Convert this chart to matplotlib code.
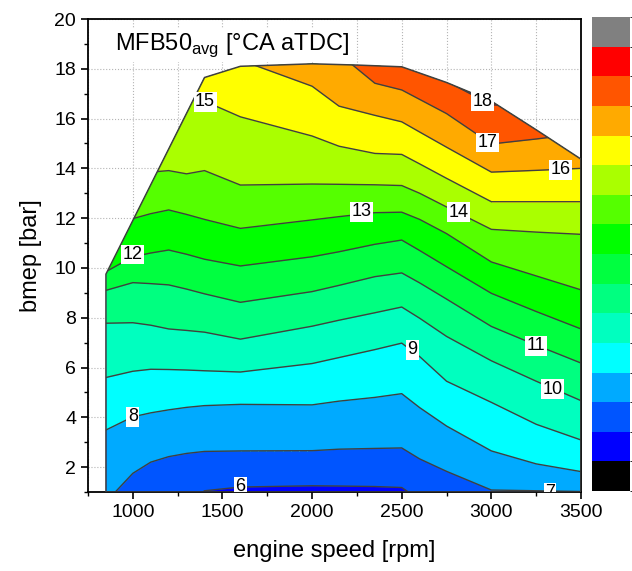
import matplotlib
matplotlib.use('Agg')
import matplotlib.pyplot as plt
import numpy as np
from matplotlib.patches import Polygon
from matplotlib.colors import ListedColormap, BoundaryNorm
from matplotlib.cm import ScalarMappable
from matplotlib.ticker import MultipleLocator

plt.rcParams['font.family'] = ['Liberation Sans', 'DejaVu Sans']
plt.rcParams['mathtext.fontset'] = 'custom'
plt.rcParams['mathtext.rm'] = 'Liberation Sans'

# engine speed columns [rpm]
speed = [850, 1000, 1100, 1200, 1300, 1400, 1600, 2000, 2150, 2350, 2500, 2600, 2750, 3000, 3250, 3500]

# bmep [bar] of each MFB50 iso-line at the speed columns (values outside the map are clipped away)
iso_6 = [0.5, 0.5, 0.5, 0.5, 0.5, 1.05, 1.2, 1.25, 1.24, 1.22, 1.18, 0.7, 0.5, 0.5, 0.5, 0.5]
iso_7 = [0.6, 1.75, 2.2, 2.42, 2.55, 2.63, 2.65, 2.66, 2.72, 2.75, 2.77, 2.33, 1.83, 1.08, 1.05, 1.02]
iso_8 = [3.49, 4.02, 4.18, 4.3, 4.4, 4.47, 4.52, 4.5, 4.65, 4.8, 4.95, 4.39, 3.65, 2.65, 2.13, 1.82]
iso_9 = [5.6, 5.85, 5.93, 5.92, 5.9, 5.87, 5.82, 6.16, 6.4, 6.72, 6.98, 6.44, 5.45, 4.6, 3.72, 3.09]
iso_10 = [7.78, 7.8, 7.7, 7.55, 7.49, 7.42, 7.14, 7.66, 7.9, 8.2, 8.43, 7.98, 7.25, 6.27, 5.45, 4.67]
iso_11 = [9.1, 9.41, 9.37, 9.32, 9.15, 8.96, 8.62, 9.05, 9.3, 9.65, 9.8, 9.4, 8.75, 7.65, 6.9, 6.18]
iso_12 = [9.85, 10.45, 10.6, 10.72, 10.55, 10.35, 10.08, 10.45, 10.65, 10.95, 11.12, 10.7, 10.05, 8.98, 8.25, 7.55]
iso_13 = [11.5, 11.98, 12.18, 12.33, 12.15, 11.95, 11.59, 11.93, 12.06, 12.22, 12.24, 11.95, 11.38, 10.24, 9.68, 9.12]
iso_14 = [13.5, 13.7, 13.85, 13.91, 13.78, 13.91, 13.33, 13.37, 13.36, 13.34, 13.31, 13.0, 12.45, 11.55, 11.44, 11.35]
iso_15 = [15.5, 16.0, 16.5, 17.0, 17.2, 16.7, 16.07, 15.3, 14.89, 14.6, 14.56, 14.18, 13.6, 12.66, 12.66, 12.66]
iso_16 = [19, 19, 19, 19, 19, 19, 18.35, 17.3, 16.5, 16.13, 15.87, 15.46, 14.85, 13.85, 13.92, 14.0]
iso_17 = [19.5, 19.5, 19.5, 19.5, 19.5, 19.5, 19.5, 19.5, 18.6, 17.42, 17.15, 16.77, 16.2, 14.98, 15.18, 15.4]
iso_18 = [20, 20, 20, 20, 20, 20, 20, 20, 20, 20, 20, 18.3, 17.5, 16.55, 16.5, 16.0]

levels = [6, 7, 8, 9, 10, 11, 12, 13, 14, 15, 16, 17, 18]
iso_lines = [iso_6, iso_7, iso_8, iso_9, iso_10, iso_11, iso_12, iso_13, iso_14, iso_15, iso_16, iso_17, iso_18]

# colour scale, 4..20 deg CA in 1 deg steps
scale_colors = ['#000000', '#0000FF', '#0055FF', '#00AAFF', '#00FFFF', '#00FFBF', '#00FF80', '#00FF40',
                '#00FF00', '#55FF00', '#AAFF00', '#FFFF00', '#FFAA00', '#FF5500', '#FF0000', '#808080']

# outline of the measured operating range
edge_speed = [850, 850, 1400, 1600, 2000, 2250, 2500, 2750, 3000, 3250, 3500, 3500]
edge_bmep = [1.0, 9.75, 17.65, 18.1, 18.2, 18.15, 18.08, 17.45, 16.7, 15.55, 14.37, 1.0]

# iso-line labels
label_text = ['6', '7', '8', '9', '10', '11', '12', '13', '14', '15', '16', '17', '18']
label_x = [1598, 3327, 1000, 2559, 3343, 3248, 998, 2277, 2815, 1403, 3388, 2978, 2952]
label_y = [1.22, 0.98, 4.02, 6.71, 5.13, 6.87, 10.54, 12.26, 12.23, 16.67, 13.94, 15.04, 16.69]

line_col = '#404040'

fig = plt.figure(figsize=(6.32, 5.71), dpi=100)
ax = fig.add_axes([88/632, 1 - 492/571, 493/632, 473/571])

edge = Polygon(np.column_stack([edge_speed, edge_bmep]), closed=True, fc='none',
               ec=line_col, lw=1.1, zorder=4)
ax.add_patch(edge)

# paint the bands from low to high, every fill covers everything above its iso-line
arts = [ax.fill_between(speed, 0, 21, color=scale_colors[1], lw=0, zorder=1)]
for lev, yl in zip(levels, iso_lines):
	arts.append(ax.fill_between(speed, yl, 21, color=scale_colors[lev - 4], lw=0, zorder=1))
for yl in iso_lines:
	arts += ax.plot(speed, yl, color=line_col, lw=1.0, zorder=2)
for a in arts:
	a.set_clip_path(edge)

for t, x, y in zip(label_text, label_x, label_y):
	ax.text(x, y, t, fontsize=13, ha='center', va='center', zorder=5, clip_on=True,
		bbox=dict(fc='white', ec='none', pad=1.0))

ax.text(0.055, 0.934, r'MFB50$_{\mathrm{avg}}$ [°CA aTDC]', transform=ax.transAxes,
	fontsize=17, ha='left', va='baseline', zorder=6,
	bbox=dict(fc='white', ec='none', pad=2))

ax.set_xlim(750, 3500)
ax.set_ylim(1, 20)
ax.xaxis.set_major_locator(MultipleLocator(500))
ax.xaxis.set_minor_locator(MultipleLocator(250))
ax.yaxis.set_major_locator(MultipleLocator(2))
ax.yaxis.set_minor_locator(MultipleLocator(1))
ax.set_axisbelow(True)
ax.grid(which='both', axis='x', ls=':', color='#b4b4b4', lw=0.8)
ax.grid(which='major', axis='y', ls=':', color='#b4b4b4', lw=0.8)
ax.tick_params(which='major', direction='out', length=5, width=1.2, labelsize=14)
ax.tick_params(which='minor', direction='out', length=3, width=1.0)
for s in ax.spines.values():
	s.set_linewidth(1.3)

ax.set_xlabel('engine speed [rpm]', fontsize=17, labelpad=14)
ax.set_ylabel('bmep [bar]', fontsize=17, labelpad=9)

# colour scale
cax = fig.add_axes([592/632, 1 - 491/571, 38/632, 474/571])
norm = BoundaryNorm(list(range(4, 21)), len(scale_colors))
cb = fig.colorbar(ScalarMappable(norm=norm, cmap=ListedColormap(scale_colors)), cax=cax)
cb.set_ticks([])
cb.outline.set_visible(False)

fig.savefig('out.png', dpi=100)
